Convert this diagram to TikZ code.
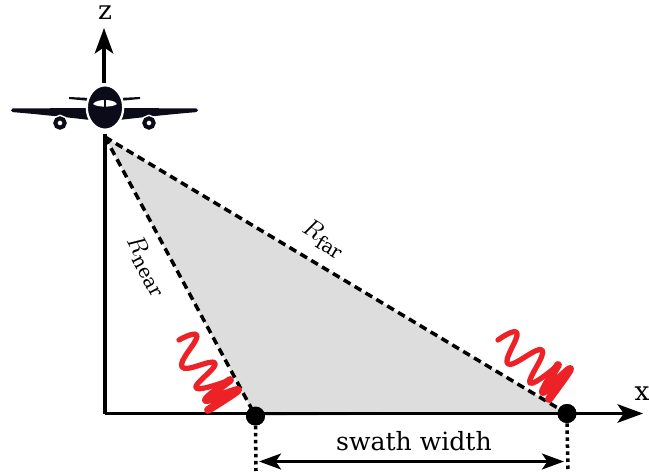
\documentclass[tikz,border=0pt]{standalone}
\usepackage{amsmath}
\usepackage{fontspec}
\setmainfont{DejaVu Serif}
\usepackage{xcolor}
\usetikzlibrary{positioning,arrows.meta,calc}
\definecolor{swathgray}{HTML}{DDDDDD}
\definecolor{echored}{HTML}{EC2227}
\definecolor{planeblack}{HTML}{0B0B1A}

\begin{document}
\begin{tikzpicture}[
		x=0.02cm, y=-0.02cm,
		axis/.style={line width=2pt, -{Stealth[length=14.5pt, width=10.5pt, inset=3.5pt]}},
		base/.style={line width=2pt},
		ray/.style={line width=2pt, dash pattern=on 4.4pt off 2.8pt},
		tick/.style={line width=2pt, dash pattern=on 2pt off 2pt},
		span/.style={line width=1.8pt, {Stealth[length=12.5pt, width=9pt, inset=3pt]}-{Stealth[length=12.5pt, width=9pt, inset=3pt]}},
		dot/.style={circle, fill=black, inner sep=0pt, minimum size=10.8pt},
		echo/.style={echored, line width=3pt, line join=round, line cap=round},
		echoend/.style={echo, line width=4.5pt},
		wheel/.style={draw=planeblack, fill=white, line width=2.3pt, circle, inner sep=0pt, minimum size=5.3pt,
				preaction={draw=white, line width=4pt}},
		lbl/.style={inner sep=0pt, font=\fontsize{14.3}{16}\selectfont},
		axlbl/.style={inner sep=0pt, font=\fontsize{15}{17}\selectfont},
		rlbl/.style={inner sep=0pt, font=\fontsize{15.5}{17}\selectfont}
		]
		\useasboundingbox (0,0) rectangle (649,476);
		% named points
		\coordinate (plane) at (105,107.5);
		\coordinate (apex) at (105,137);
		\coordinate (origin) at (105,413.5);
		\coordinate (xend) at (643,413.5);
		\coordinate (ztop) at (104,28);
		\coordinate (zfoot) at (104,83);
		\coordinate (axisup) at (105,134);
		\node[dot] (near) at (255.5,416) {};
		\node[dot] (far) at (567,413.5) {};
		\coordinate (neartick) at (256,471);
		\coordinate (fartick) at (568,471);
		\coordinate (spanl) at (259,461.5);
		\coordinate (spanr) at (564,461.5);
		% swath
		\fill[swathgray] (apex) -- (near.center) -- (far.center) -- cycle;
		\draw[ray] (apex) -- (near.center);
		\draw[ray] (apex) -- (far.center);
		% axes
		\draw[base] (axisup) -- (origin);
		\draw[axis] (origin) -- (xend);
		\draw[axis] (zfoot) -- (ztop);
		\node[dot] at (near) {};
		\node[dot] at (far) {};
		% width marks
		\draw[tick] (near.south) -- (neartick);
		\draw[tick] (far.south) -- (fartick);
		\draw[span] (spanl) -- (spanr);
		\node[lbl] (swath) at (414,441) {swath width};
		% echoes
		\draw[echo] plot[smooth, tension=0.8] coordinates {(179,340) (197,336) (182,367) (215,363) (196,388) (230,380)};
		\draw[echoend] plot[smooth, tension=0.5] coordinates {(230,380) (206,400) (238,390) (208,410)};
		\draw[echo] plot[smooth, tension=0.8] coordinates {(498,340) (517,333) (508,364) (542,350) (530,383) (558,365)};
		\draw[echoend] plot[smooth, tension=0.5] coordinates {(558,365) (543,392) (570,369) (549,399)};
		% labels
		\node[axlbl] (zlab) at (105,13) {z};
		\node[axlbl] (xlab) at (642,394) {x};
		\node[rlbl, rotate=-31] (rfar) at (324,239) {$R_{\text{far}}$};
		\node[rlbl, rotate=-62] (rnear) at (147,266) {$R_{\text{near}}$};
		% plane
		\fill[planeblack, rounded corners=1pt] (11,108.5) -- (90,108) -- (90,120) .. controls (60,116.5) and (30,113.5) .. (11,112) -- cycle;
		\fill[planeblack, rounded corners=1pt] (198,108.5) -- (119,108) -- (119,120) .. controls (149,116.5) and (179,113.5) .. (198,112) -- cycle;
		\fill[planeblack] (69,97) -- (90,98) -- (90,101) -- (69,99) -- cycle;
		\fill[planeblack] (140,97) -- (119,98) -- (119,101) -- (140,99) -- cycle;
		\node[wheel] (wheelL) at (60,123) {};
		\node[wheel] (wheelR) at (149,123) {};
		\fill[planeblack, draw=white, line width=1.3pt] (plane) ellipse (18.2 and 22.2);
		\fill[white] (93,104) .. controls (95,100.5) and (102,100) .. (105,100) .. controls (108,100) and (115,100.5) .. (117,104) .. controls (113,107.5) and (97,107.5) .. cycle;
		\draw[planeblack, line width=0.9pt] (105,100) -- (105,107);
	\end{tikzpicture}
\end{document}
